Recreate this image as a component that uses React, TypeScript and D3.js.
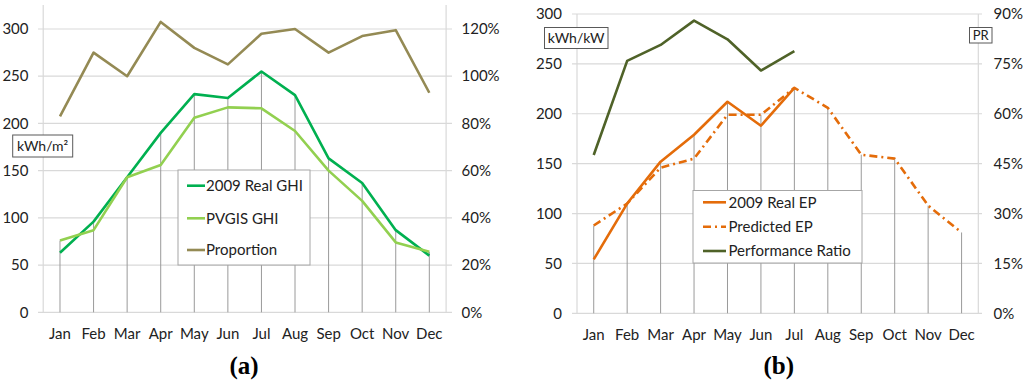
import React from "react";
import * as d3 from "d3";

const months = ["Jan", "Feb", "Mar", "Apr", "May", "Jun", "Jul", "Aug", "Sep", "Oct", "Nov", "Dec"];

// Panel (a)
const realGHI = [63, 96, 143, 190, 231, 227, 255, 230, 163, 137, 87, 60];
const pvgisGHI = [76, 87, 143, 156, 206, 217, 216, 192, 150, 118, 74, 64];
const proportion = [83, 110, 100, 123, 112, 105, 118, 120, 110, 117, 119.5, 93];
const leftTicksA = [0, 50, 100, 150, 200, 250, 300];
const rightTicksA = [0, 20, 40, 60, 80, 100, 120];

// Panel (b)
const realEP = [54, 110, 152, 179, 212, 188, 226];
const predictedEP = [88, 110, 146, 155, 199, 199, 226, 206, 159, 155, 108, 81];
const performanceRatio = [47.6, 75.9, 80.7, 88, 82.4, 73, 78.8];
const leftTicksB = [0, 50, 100, 150, 200, 250, 300];
const rightTicksB = [0, 15, 30, 45, 60, 75, 90];

const FONT = "Lato, 'Open Sans', sans-serif";
const FS = 15;

type Series = { name: string; values: number[]; color: string; axis: "left" | "right"; dash?: string };

function Panel(props: {
  x0: number; x1: number; yTop: number; yZero: number; y300: number;
  gridX0: number; gridX1: number; leftLabelX: number; rightLabelX: number;
  leftTicks: number[]; rightTicks: number[]; rightMax: number;
  series: Series[];
  legend: { x: number; y: number; w: number; h: number; rows: number[]; lineX0: number; lineX1: number; textX: number };
  title: string; titleX: number; monthY: number;
}) {
  const p = props;
  const x = d3.scaleBand().domain(months).range([p.x0, p.x1]);
  const cx = (m: string) => (x(m) as number) + x.bandwidth() / 2;
  const y = d3.scaleLinear().domain([0, 300]).range([p.yZero, p.y300]);
  const y2 = d3.scaleLinear().domain([0, p.rightMax]).range([p.yZero, p.y300]);
  const primary = p.series.filter((s) => s.axis === "left");
  const drops = months.map((m, i) => {
    const vals = primary.map((s) => s.values[i]).filter((v) => v !== undefined);
    return { m, v: d3.max(vals) as number };
  });
  return (
    <g>
      {p.leftTicks.map((t) => (
        <line key={"g" + t} x1={p.gridX0} x2={p.gridX1} y1={y(t)} y2={y(t)} stroke="#d9d9d9" strokeWidth={1.2} />
      ))}
      <line x1={p.x0} x2={p.x0} y1={p.yTop} y2={p.yZero} stroke="#d9d9d9" strokeWidth={1.2} />
      <line x1={p.x1} x2={p.x1} y1={p.yTop} y2={p.yZero} stroke="#d9d9d9" strokeWidth={1.2} />
      {drops.map((d) => (
        <line key={"d" + d.m} x1={cx(d.m)} x2={cx(d.m)} y1={y(d.v)} y2={y(0)} stroke="#9a9a9a" strokeWidth={1} />
      ))}
      {p.leftTicks.map((t) => (
        <text key={"l" + t} x={p.leftLabelX} y={y(t)} dy="0.35em" textAnchor="end" fontSize={FS} fill="#222">{t}</text>
      ))}
      {p.rightTicks.map((t) => (
        <text key={"r" + t} x={p.rightLabelX} y={y2(t)} dy="0.35em" textAnchor="start" fontSize={FS} fill="#222">{t + "%"}</text>
      ))}
      {months.map((m) => (
        <text key={"m" + m} x={cx(m)} y={p.monthY} textAnchor="middle" fontSize={FS} fill="#222">{m}</text>
      ))}
      {p.series.map((s) => {
        const sc = s.axis === "left" ? y : y2;
        const line = d3.line<number>().x((_, i) => cx(months[i])).y((v) => sc(v));
        return (
          <path key={s.name} d={line(s.values) || ""} fill="none" stroke={s.color} strokeWidth={2.6}
            strokeDasharray={s.dash} strokeLinejoin="round" />
        );
      })}
      <rect x={p.legend.x} y={p.legend.y} width={p.legend.w} height={p.legend.h} fill="#fff" stroke="#a6a6a6" strokeWidth={1} />
      {p.series.map((s, i) => (
        <g key={"lg" + s.name}>
          <line x1={p.legend.lineX0} x2={p.legend.lineX1} y1={p.legend.rows[i]} y2={p.legend.rows[i]} stroke={s.color}
            strokeWidth={2.6} strokeDasharray={s.dash} />
          <text x={p.legend.textX} y={p.legend.rows[i]} dy="0.35em" fontSize={FS} fill="#222">{s.name}</text>
        </g>
      ))}
      <text x={p.titleX} y={374} textAnchor="middle" fontFamily="'Liberation Serif', 'Times New Roman', serif"
        fontWeight="bold" fontSize={25} fill="#000">{"("}<tspan>{p.title}</tspan>{")"}</text>
    </g>
  );
}

export default function App() {
  return (
    <svg width={1024} height={382} style={{ position: "absolute", left: 0, top: 0, background: "#fff" }} fontFamily={FONT}>
      <rect x={0} y={0} width={1024} height={382} fill="#fff" />
      <Panel
        x0={43.2} x1={446.1} yTop={5} yZero={312.3} y300={29}
        gridX0={38} gridX1={452} leftLabelX={28.5} rightLabelX={461.5}
        leftTicks={leftTicksA} rightTicks={rightTicksA} rightMax={120}
        series={[
          { name: "2009 Real GHI", values: realGHI, color: "#00b050", axis: "left" },
          { name: "PVGIS GHI", values: pvgisGHI, color: "#92d050", axis: "left" },
          { name: "Proportion", values: proportion, color: "#948a54", axis: "right" },
        ]}
        legend={{ x: 178, y: 170, w: 132, h: 95, rows: [185.7, 218.3, 250], lineX0: 187, lineX1: 205, textX: 206 }}
        title="a" titleX={244} monthY={338.5}
      />
      <Panel
        x0={577} x1={978.3} yTop={14} yZero={313.3} y300={14}
        gridX0={572} gridX1={982} leftLabelX={562} rightLabelX={993.5}
        leftTicks={leftTicksB} rightTicks={rightTicksB} rightMax={90}
        series={[
          { name: "2009 Real EP", values: realEP, color: "#e46c0a", axis: "left" },
          { name: "Predicted EP", values: predictedEP, color: "#e46c0a", axis: "left", dash: "8 4 2 4" },
          { name: "Performance Ratio", values: performanceRatio, color: "#4f6228", axis: "right" },
        ]}
        legend={{ x: 693, y: 190.5, w: 169, h: 72.5, rows: [202.3, 226.7, 251], lineX0: 703, lineX1: 726, textX: 728.5 }}
        title="b" titleX={778.7} monthY={339.5}
      />
      <rect x={12.7} y={135} width={60} height={22} fill="#fff" stroke="#595959" strokeWidth={1} />
      <text x={42.7} y={146} dy="0.35em" textAnchor="middle" fontSize={14} fill="#222">kWh/m²</text>
      <rect x={544.5} y={27.5} width={63.5} height={21} fill="#fff" stroke="#595959" strokeWidth={1} />
      <text x={576.2} y={38} dy="0.35em" textAnchor="middle" fontSize={14} fill="#222">kWh/kW</text>
      <rect x={969.5} y={27.5} width={22.5} height={15.5} fill="#fff" stroke="#595959" strokeWidth={1} />
      <text x={980.7} y={35.3} dy="0.35em" textAnchor="middle" fontSize={13} fill="#222">PR</text>
    </svg>
  );
}
